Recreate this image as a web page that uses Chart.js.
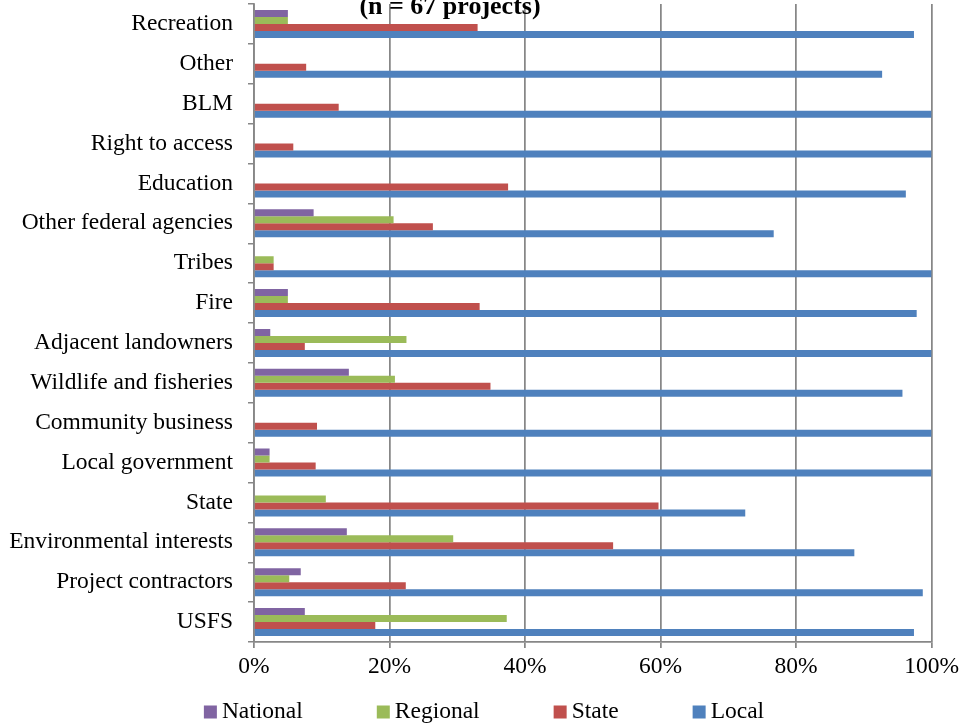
<!DOCTYPE html>
<html>
<head>
<meta charset="utf-8">
<script src="https://cdn.jsdelivr.net/npm/chart.js@4/dist/chart.umd.min.js"></script>
<style>
  body { margin: 0; background: #fff; }
</style>
</head>
<body>
<canvas id="barchart" width="964" height="725"></canvas>
<script>
var categories = [
  "Recreation", "Other", "BLM", "Right to access", "Education",
  "Other federal agencies", "Tribes", "Fire", "Adjacent landowners",
  "Wildlife and fisheries", "Community business", "Local government",
  "State", "Environmental interests", "Project contractors", "USFS"
];
var nationalValues = [5, 0, 0, 0, 0, 8.8, 0, 5, 2.4, 14, 0, 2.3, 0, 13.7, 6.9, 7.5];
var regionalValues = [5, 0, 0, 0, 0, 20.6, 2.9, 5, 22.5, 20.8, 0, 2.3, 10.6, 29.4, 5.2, 37.3];
var stateValues = [33, 7.7, 12.5, 5.8, 37.5, 26.4, 2.9, 33.3, 7.5, 34.9, 9.3, 9.1, 59.7, 53, 22.4, 17.9];
var localValues = [97.4, 92.7, 100, 100, 96.2, 76.7, 100, 97.8, 100, 95.7, 100, 100, 72.5, 88.6, 98.7, 97.4];
var seriesNames = ["National", "Regional", "State", "Local"];
var seriesColors = ["#8064a2", "#9bbb59", "#c0504d", "#4f81bd"];
var titleText = "(n = 67 projects)";

var fontFamily = "'Liberation Serif', 'Times New Roman', serif";
var fontSize = 23.5;
var gridColor = "#878787";

// title sits at the very top and runs off the canvas edge
var titlePlugin = {
  id: "topTitle",
  afterDraw: function (chart) {
    var ctx = chart.ctx;
    ctx.save();
    ctx.font = "bold 26px " + fontFamily;
    ctx.fillStyle = "#000";
    ctx.textAlign = "center";
    ctx.textBaseline = "alphabetic";
    ctx.fillText(titleText, 450, 14);
    ctx.restore();
  }
};

// legend row under the x axis: square swatch + label, fixed gap between items
var legendRow = {
  id: "legendRow",
  afterDraw: function (chart) {
    var ctx = chart.ctx;
    var box = 13, boxGap = 5, itemGap = 74, y = 712;
    ctx.save();
    ctx.font = fontSize + "px " + fontFamily;
    var items = chart.data.datasets.map(function (ds) {
      return { text: ds.label, color: ds.backgroundColor, w: ctx.measureText(ds.label).width };
    });
    var total = 0;
    items.forEach(function (it, i) {
      total += box + boxGap + it.w + (i < items.length - 1 ? itemGap : 0);
    });
    var x = chart.width / 2 + 2 - total / 2;
    ctx.textBaseline = "middle";
    ctx.textAlign = "left";
    items.forEach(function (it) {
      ctx.fillStyle = it.color;
      ctx.fillRect(x, y - box / 2, box, box);
      ctx.fillStyle = "#000";
      ctx.fillText(it.text, x + box + boxGap, y);
      x += box + boxGap + it.w + itemGap;
    });
    ctx.restore();
  }
};

var seriesData = [nationalValues, regionalValues, stateValues, localValues];

var data = {
  type: "bar",
  data: {
    labels: categories,
    datasets: seriesNames.map(function (name, i) {
      return {
        label: name,
        data: seriesData[i],
        backgroundColor: seriesColors[i],
        borderWidth: 0,
        categoryPercentage: 0.7,
        barPercentage: 1.0
      };
    })
  },
  options: {
    indexAxis: "y",
    responsive: false,
    animation: false,
    layout: { padding: { top: 4, right: 32, bottom: 43, left: 0 } },
    plugins: {
      legend: { display: false },
      title: { display: false },
      tooltip: { enabled: false }
    },
    scales: {
      x: {
        min: 0,
        max: 100,
        afterFit: function (scale) { scale.height = 40; },
        ticks: {
          stepSize: 20,
          padding: 5,
          color: "#000",
          font: { family: fontFamily, size: fontSize },
          callback: function (v) { return v + "%"; }
        },
        grid: { color: gridColor, lineWidth: 1.75, tickLength: 6 },
        border: { color: gridColor, width: 1.75 }
      },
      y: {
        afterFit: function (scale) {
          scale.width = 254;
          scale.paddingTop = 0;
          scale.paddingBottom = 0;
        },
        ticks: {
          padding: 15,
          color: "#000",
          font: { family: fontFamily, size: fontSize }
        },
        grid: { drawOnChartArea: false, color: gridColor, lineWidth: 1.5, tickLength: 6, offset: true },
        border: { color: gridColor, width: 1.75 }
      }
    }
  },
  plugins: [titlePlugin, legendRow]
};

new Chart("barchart", data);
</script>
</body>
</html>
